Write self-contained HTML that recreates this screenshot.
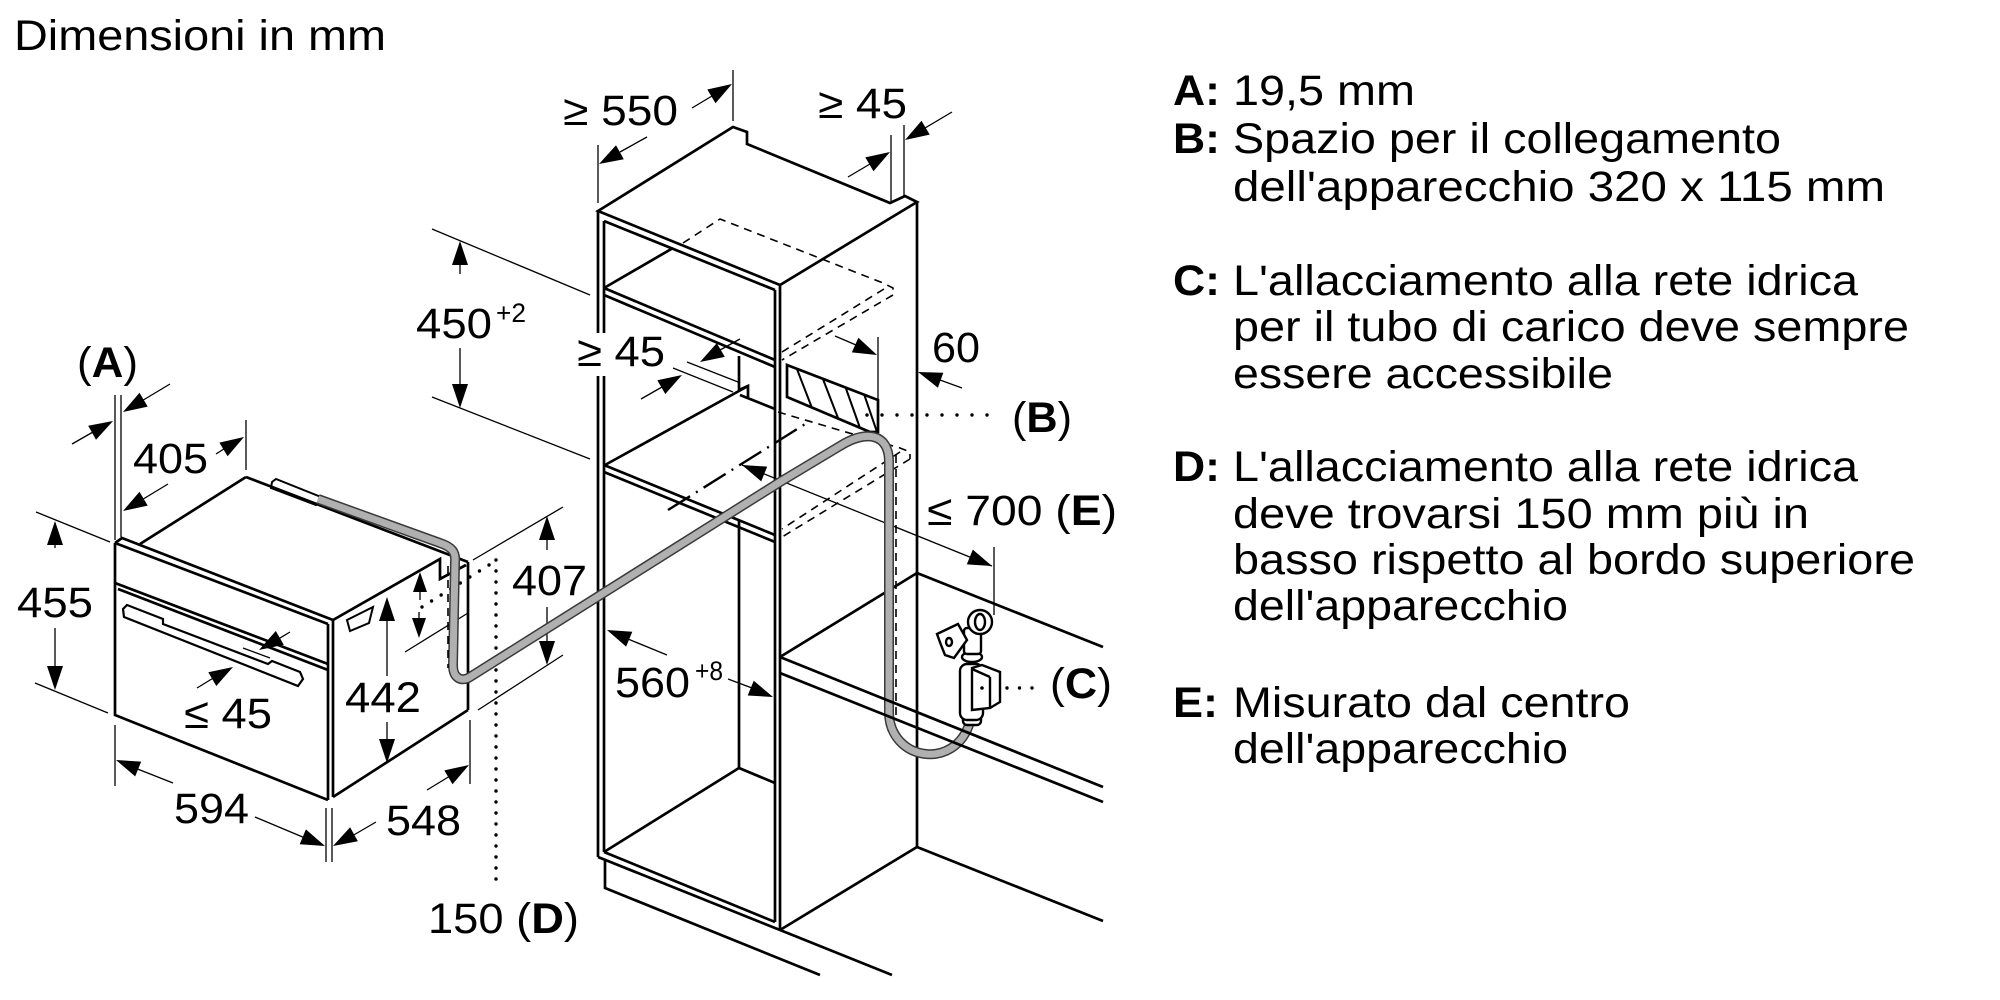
<!DOCTYPE html>
<html><head><meta charset="utf-8"><style>
html,body{margin:0;padding:0;background:#fff;}
svg{display:block;}
text{font-family:"Liberation Sans",Arial,sans-serif;font-size:43px;fill:#000;}
.b{font-weight:bold;}
.k{stroke:#000;stroke-width:2.7;fill:none;stroke-linejoin:miter;}
.t{stroke:#000;stroke-width:1.3;fill:none;}
.d{stroke:#000;stroke-width:1.6;fill:none;stroke-dasharray:8 6;}
.dot{stroke:#000;stroke-width:3.4;fill:none;stroke-linecap:round;}
.h{fill:#000;stroke:none;}
</style></head><body>
<svg width="2000" height="1000" viewBox="0 0 2000 1000" xmlns="http://www.w3.org/2000/svg">
<defs>
<clipPath id="hb"><polygon points="787,365 878,400 878,432 870,432 787,397"/></clipPath>
</defs>
<rect width="2000" height="1000" fill="#fff"/>

<!-- ===== OVEN ===== -->
<g class="k">
<polyline points="115,543 115,715 328,800"/>
<line x1="328" y1="624" x2="328" y2="800"/>
<line x1="333" y1="620" x2="333" y2="797"/>
<line x1="115" y1="543" x2="328" y2="624"/>
<polyline points="115,543 122,538 333,620"/>
<line x1="115" y1="583" x2="328" y2="664"/>
<line x1="118" y1="589" x2="328" y2="670"/>
<line x1="140" y1="544" x2="246" y2="477"/>
<line x1="246" y1="477" x2="468" y2="562"/>
<polyline points="333,620 440,559 440,579 466,565"/>
<line x1="468" y1="562" x2="468" y2="710"/>
<line x1="333" y1="797" x2="468" y2="710"/>
<polygon points="123,609 127,605 163,619 163,624 268,664 272,661 300,672 303,679 298,686 124,617" stroke-width="2.2"/>
<polygon points="272,482 276,479 321,497 320,503 316,505 271,488" stroke-width="2"/>
<polygon points="347,620 373,607 369,623 350,631" stroke-width="2"/>
</g>

<!-- oven dimensions: lines -->
<g class="t">
<line x1="115" y1="395" x2="115" y2="540"/>
<line x1="121" y1="395" x2="121" y2="537"/>
<line x1="72" y1="444" x2="100" y2="428"/>
<line x1="170" y1="384" x2="135" y2="405"/>
<line x1="246" y1="420" x2="246" y2="470"/>
<line x1="216" y1="454" x2="230" y2="445"/>
<line x1="168" y1="484" x2="135" y2="504"/>
<line x1="36" y1="512" x2="110" y2="542"/>
<line x1="35" y1="683" x2="108" y2="713"/>
<line x1="55" y1="548" x2="55" y2="540"/>
<line x1="55" y1="628" x2="55" y2="670"/>
<line x1="243" y1="648" x2="270" y2="658"/>
<line x1="290" y1="632" x2="275" y2="641"/>
<line x1="197" y1="688" x2="215" y2="677"/>
<line x1="387" y1="676" x2="387" y2="615"/>
<line x1="387" y1="722" x2="387" y2="745"/>
<line x1="420" y1="600" x2="420" y2="588"/>
<line x1="419" y1="612" x2="419" y2="622"/>
<line x1="405" y1="652" x2="468" y2="613"/>
<line x1="473" y1="560" x2="563" y2="507"/>
<line x1="478" y1="710" x2="563" y2="655"/>
<line x1="547" y1="550" x2="547" y2="535"/>
<line x1="547" y1="607" x2="547" y2="645"/>
<line x1="115" y1="725" x2="115" y2="786"/>
<line x1="173" y1="783" x2="135" y2="768"/>
<line x1="326" y1="808" x2="326" y2="862"/>
<line x1="332" y1="808" x2="332" y2="862"/>
<line x1="255" y1="817" x2="305" y2="838"/>
<line x1="376" y1="822" x2="352" y2="836"/>
<line x1="470" y1="720" x2="470" y2="784"/>
<line x1="427" y1="790" x2="450" y2="776"/>
</g>
<!-- oven dimensions: arrowheads -->
<g class="h">
<polygon points="113,421 96.0,439.7 88.2,425.7"/>
<polygon points="123,412 139.5,392.8 147.7,406.6"/>
<polygon points="244,437 227.6,456.2 219.4,442.6"/>
<polygon points="123,511 139.5,491.8 147.7,505.6"/>
<polygon points="55,521 47,545 63,545"/>
<polygon points="55,690 47,666 63,666"/>
<polygon points="259,650 275.8,631.0 283.8,644.8"/>
<polygon points="233,667 216.3,686.0 208.3,672.2"/>
<polygon points="387,597 379,621 395,621"/>
<polygon points="387,763 379,739 395,739"/>
<polygon points="420,572 413,592 427,592"/>
<polygon points="419,638 412,618 426,618"/>
<polygon points="547,516 539,540 555,540"/>
<polygon points="547,665 539,641 555,641"/>
<polygon points="116,760 141.2,761.6 135.2,776.4"/>
<polygon points="325,846 299.7,844.2 305.9,829.4"/>
<polygon points="333,846 350.1,827.3 357.9,841.3"/>
<polygon points="469,765 452.5,784.2 444.3,770.4"/>
</g>
<line class="dot" x1="422" y1="607" x2="497" y2="560" stroke-dasharray="0 11.3"/>
<line class="dot" x1="496" y1="560" x2="496" y2="886" stroke-dasharray="0 11"/>

<!-- ===== CABINET ===== -->
<g class="k">
<polygon points="598,211 733,127 747,132 747,144 890,203 905,196 917,202 780,285"/>
<line x1="604" y1="221" x2="775" y2="290"/>
<line x1="598" y1="211" x2="598" y2="333"/>
<line x1="598" y1="376" x2="598" y2="857"/>
<line x1="604" y1="221" x2="604" y2="333"/>
<line x1="604" y1="376" x2="604" y2="852"/>
<line x1="780" y1="285" x2="780" y2="930"/>
<line x1="775" y1="290" x2="775" y2="922"/>
<line x1="917" y1="202" x2="917" y2="847"/>
<line x1="604" y1="288" x2="775" y2="360"/>
<line x1="604" y1="295" x2="775" y2="367"/>
<line x1="604" y1="288" x2="673" y2="248"/>
<line x1="739" y1="356" x2="739" y2="390"/>
<polyline points="739,390 748,386 748,397"/>
<line x1="605" y1="465" x2="748" y2="386"/>
<line x1="740" y1="395" x2="775" y2="409"/>
<line x1="604" y1="465" x2="775" y2="535"/>
<line x1="604" y1="472" x2="775" y2="542"/>
<line x1="739" y1="521" x2="739" y2="768"/>
<line x1="739" y1="768" x2="604" y2="852"/>
<line x1="739" y1="768" x2="775" y2="783"/>
<line x1="598" y1="857" x2="780" y2="930"/>
<line x1="604" y1="852" x2="775" y2="922"/>
<polyline points="605,860 605,888 820,975"/>
<line x1="780" y1="930" x2="892" y2="975"/>
<line x1="780" y1="930" x2="917" y2="847"/>
<line x1="917" y1="847" x2="1103" y2="921"/>
<line x1="780" y1="657" x2="917" y2="573"/>
<line x1="917" y1="573" x2="1103" y2="647"/>
</g>

<!-- hidden dashed boxes -->
<g class="d">
<polyline points="683,243 720,219 883,283 893,288 893,295"/>
<line x1="893" y1="295" x2="782" y2="360"/>
<line x1="884" y1="289" x2="782" y2="352"/>
<polyline points="778,412 900,448 910,452 910,459"/>
<line x1="910" y1="459" x2="782" y2="537"/>
<line x1="900" y1="452" x2="782" y2="529"/>
</g>
<!-- dash-dot center line -->
<line x1="668" y1="510" x2="810" y2="421" stroke="#000" stroke-width="2.4" stroke-dasharray="26 7 2 7"/>

<!-- hatched B box -->
<polygon points="787,365 878,400 878,432 870,432 787,397" fill="#fff" stroke="#000" stroke-width="2.7"/>
<g clip-path="url(#hb)" stroke="#000" stroke-width="2">
<line x1="795" y1="364" x2="812" y2="408"/>
<line x1="821" y1="374" x2="838" y2="418"/>
<line x1="844" y1="383" x2="860" y2="428"/>
<line x1="863" y1="391" x2="878" y2="435"/>
</g>

<!-- cabinet dimensions: lines -->
<g class="t">
<line x1="598" y1="145" x2="598" y2="203"/>
<line x1="733" y1="70" x2="733" y2="121"/>
<line x1="647" y1="137" x2="620" y2="152"/>
<line x1="692" y1="108" x2="712" y2="96"/>
<line x1="891" y1="135" x2="891" y2="201"/>
<line x1="904" y1="125" x2="904" y2="197"/>
<line x1="848" y1="177" x2="870" y2="164"/>
<line x1="952" y1="112" x2="925" y2="128"/>
<line x1="432" y1="229" x2="590" y2="295"/>
<line x1="432" y1="397" x2="590" y2="459"/>
<line x1="460" y1="274" x2="460" y2="260"/>
<line x1="460" y1="348" x2="460" y2="390"/>
<line x1="740" y1="339" x2="720" y2="350"/>
<line x1="687" y1="362" x2="738" y2="382"/>
<line x1="673" y1="368" x2="733" y2="392"/>
<line x1="641" y1="399" x2="662" y2="387"/>
<line x1="878" y1="337" x2="878" y2="400"/>
<line x1="835" y1="336" x2="856" y2="345"/>
<line x1="962" y1="388" x2="940" y2="380"/>
<line x1="994" y1="547" x2="994" y2="615"/>
<line x1="742" y1="465" x2="992" y2="566"/>
<line x1="667" y1="655" x2="628" y2="639"/>
<line x1="728" y1="679" x2="752" y2="688"/>
</g>
<!-- cabinet dimensions: arrowheads -->
<g class="h">
<polygon points="599,164 616.0,145.2 623.8,159.2"/>
<polygon points="732,84 715.5,103.3 707.3,89.5"/>
<polygon points="890,152 873.5,171.2 865.3,157.4"/>
<polygon points="905,140 921.5,120.8 929.7,134.6"/>
<polygon points="460,241 452,265 468,265"/>
<polygon points="460,408 452,384 468,384"/>
<polygon points="700,362 716.8,343.1 724.8,356.9"/>
<polygon points="682,375 665.3,394.0 657.3,380.2"/>
<polygon points="877,355 851.8,352.4 858.4,337.8"/>
<polygon points="918,372 943.3,372.7 937.9,387.7"/>
<polygon points="992,566 966.8,564.4 972.8,549.6"/>
<polygon points="742,465 767.2,466.6 761.2,481.4"/>
<polygon points="607,630 632.3,631.8 626.1,646.6"/>
<polygon points="773,697 747.7,695.5 753.7,680.7"/>
</g>
<line class="dot" x1="867" y1="415" x2="1002" y2="415" stroke-dasharray="0 15"/>
<line class="dot" x1="982" y1="688" x2="1042" y2="688" stroke-dasharray="0 12.5"/>

<!-- ===== HOSE ===== -->
<path d="M318,499 L440,543 C452,547 456,552 455,562 L453,665 C453,679 462,682 470,677 L780,482 L840,446 C866,430 889,433 889,462 L889,712 C889,760 955,772 970,722" fill="none" stroke="#3a3a3a" stroke-width="10" stroke-linejoin="round"/>
<path d="M318,499 L440,543 C452,547 456,552 455,562 L453,665 C453,679 462,682 470,677 L780,482 L840,446 C866,430 889,433 889,462 L889,712 C889,760 955,772 970,722" fill="none" stroke="#b0b0b0" stroke-width="7" stroke-linejoin="round"/>
<line class="d" x1="448" y1="566" x2="448" y2="668" stroke-dasharray="6 5"/>
<line class="d" x1="896" y1="455" x2="896" y2="716" stroke-dasharray="7 5"/>

<!-- counter lines over hose -->
<g class="k">
<line x1="780" y1="657" x2="1103" y2="787"/>
<line x1="780" y1="673" x2="1103" y2="802"/>
</g>

<!-- ===== TAP ===== -->
<g stroke="#000" stroke-width="2.4" fill="#fff">
<rect x="963" y="711" width="18" height="14" rx="4"/>
<rect x="960" y="664" width="23" height="56" rx="7"/>
<polygon points="972,668 982,665 1000,672 1000,702 990,708 972,710"/>
<line x1="972" y1="669" x2="990" y2="677"/>
<line x1="990" y1="677" x2="990" y2="708"/>
<ellipse cx="972" cy="657" rx="10" ry="5"/>
<rect x="964" y="628" width="17" height="26" rx="3"/>
<circle cx="980" cy="622" r="12"/>
<ellipse cx="980" cy="622" rx="5" ry="8"/>
<polygon points="937,634 958,624 967,640 954,658 945,655 941,645"/>
<ellipse cx="949" cy="642" rx="3" ry="4"/>
</g>
<circle cx="982" cy="688" r="1.8" fill="#000"/>

<!-- ===== TEXT ===== -->
<text x="14" y="50" textLength="372" lengthAdjust="spacingAndGlyphs">Dimensioni in mm</text>
<text x="77" y="377" textLength="61" lengthAdjust="spacingAndGlyphs">(<tspan class="b">A</tspan>)</text>
<text x="133" y="473" textLength="75" lengthAdjust="spacingAndGlyphs">405</text>
<text x="17" y="617" textLength="76" lengthAdjust="spacingAndGlyphs">455</text>
<text x="184" y="728" textLength="88" lengthAdjust="spacingAndGlyphs">≤ 45</text>
<text x="345" y="712" textLength="76" lengthAdjust="spacingAndGlyphs">442</text>
<text x="174" y="823" textLength="75" lengthAdjust="spacingAndGlyphs">594</text>
<text x="386" y="835" textLength="75" lengthAdjust="spacingAndGlyphs">548</text>
<text x="512" y="595" textLength="75" lengthAdjust="spacingAndGlyphs">407</text>
<text x="428" y="933" textLength="151" lengthAdjust="spacingAndGlyphs">150 (<tspan class="b">D</tspan>)</text>
<text x="615" y="697" textLength="75" lengthAdjust="spacingAndGlyphs">560</text>
<text x="695" y="680" style="font-size:27px" textLength="28" lengthAdjust="spacingAndGlyphs">+8</text>
<text x="416" y="338" textLength="76" lengthAdjust="spacingAndGlyphs">450</text>
<text x="496" y="322" style="font-size:27px" textLength="30" lengthAdjust="spacingAndGlyphs">+2</text>
<text x="563" y="125" textLength="115" lengthAdjust="spacingAndGlyphs">≥ 550</text>
<text x="818" y="118" textLength="89" lengthAdjust="spacingAndGlyphs">≥ 45</text>
<text x="577" y="366" textLength="88" lengthAdjust="spacingAndGlyphs">≥ 45</text>
<text x="932" y="362" textLength="48" lengthAdjust="spacingAndGlyphs">60</text>
<text x="1012" y="432" textLength="60" lengthAdjust="spacingAndGlyphs">(<tspan class="b">B</tspan>)</text>
<text x="927" y="525" textLength="190" lengthAdjust="spacingAndGlyphs">≤ 700 (<tspan class="b">E</tspan>)</text>
<text x="1050" y="698" textLength="62" lengthAdjust="spacingAndGlyphs">(<tspan class="b">C</tspan>)</text>

<text class="b" x="1173" y="105" textLength="47" lengthAdjust="spacingAndGlyphs">A:</text>
<text x="1233" y="105" textLength="182" lengthAdjust="spacingAndGlyphs">19,5 mm</text>
<text class="b" x="1173" y="153" textLength="47" lengthAdjust="spacingAndGlyphs">B:</text>
<text x="1233" y="153" textLength="548" lengthAdjust="spacingAndGlyphs">Spazio per il collegamento</text>
<text x="1233" y="201" textLength="652" lengthAdjust="spacingAndGlyphs">dell'apparecchio 320 x 115 mm</text>
<text class="b" x="1173" y="295" textLength="47" lengthAdjust="spacingAndGlyphs">C:</text>
<text x="1233" y="295" textLength="625" lengthAdjust="spacingAndGlyphs">L'allacciamento alla rete idrica</text>
<text x="1233" y="341" textLength="676" lengthAdjust="spacingAndGlyphs">per il tubo di carico deve sempre</text>
<text x="1233" y="388" textLength="380" lengthAdjust="spacingAndGlyphs">essere accessibile</text>
<text class="b" x="1173" y="481" textLength="47" lengthAdjust="spacingAndGlyphs">D:</text>
<text x="1233" y="481" textLength="625" lengthAdjust="spacingAndGlyphs">L'allacciamento alla rete idrica</text>
<text x="1233" y="528" textLength="576" lengthAdjust="spacingAndGlyphs">deve trovarsi 150 mm più in</text>
<text x="1233" y="574" textLength="682" lengthAdjust="spacingAndGlyphs">basso rispetto al bordo superiore</text>
<text x="1233" y="620" textLength="335" lengthAdjust="spacingAndGlyphs">dell'apparecchio</text>
<text class="b" x="1173" y="717" textLength="45" lengthAdjust="spacingAndGlyphs">E:</text>
<text x="1233" y="717" textLength="397" lengthAdjust="spacingAndGlyphs">Misurato dal centro</text>
<text x="1233" y="763" textLength="335" lengthAdjust="spacingAndGlyphs">dell'apparecchio</text>
</svg>
</body></html>
